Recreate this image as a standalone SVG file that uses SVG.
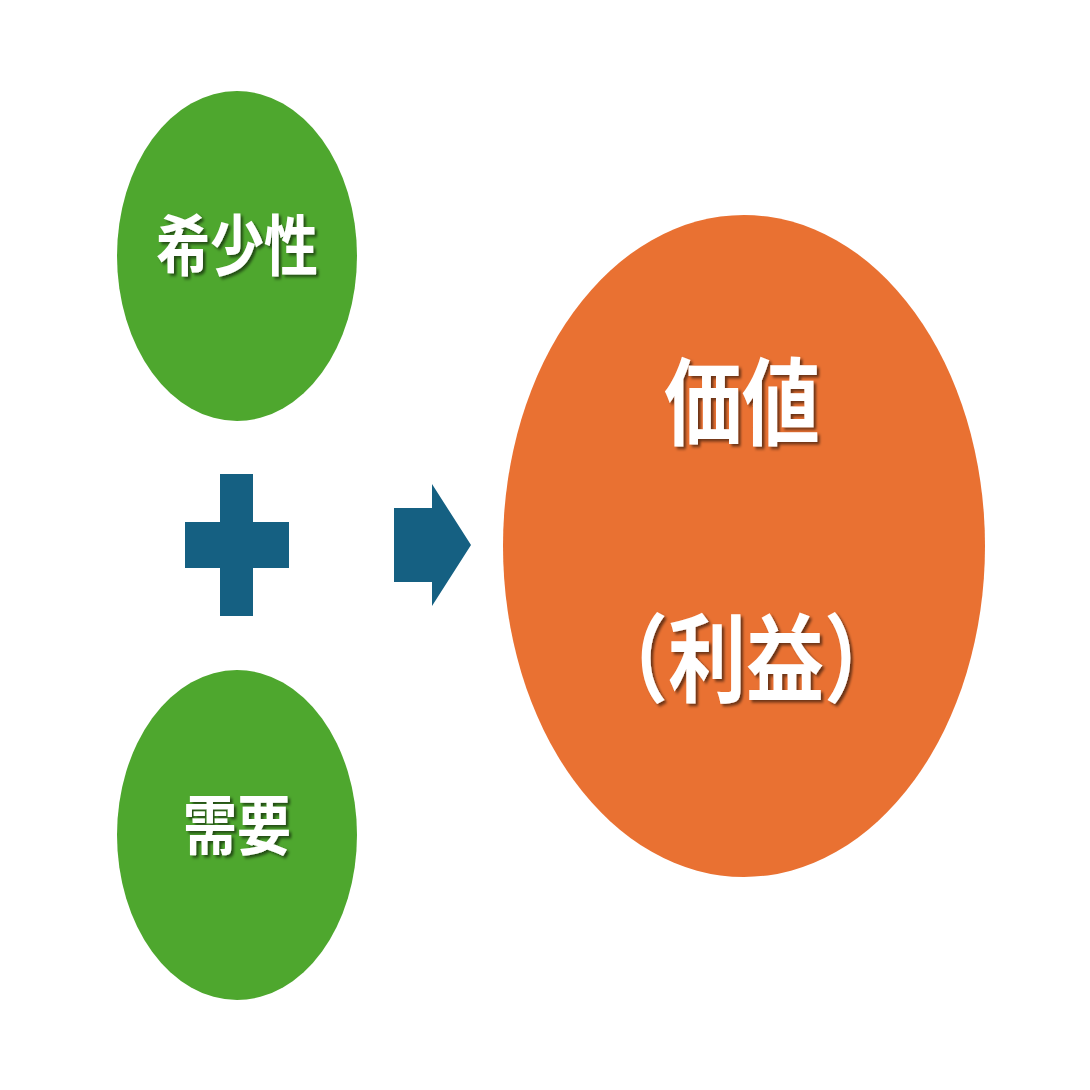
<svg xmlns="http://www.w3.org/2000/svg" width="1090" height="1090" viewBox="0 0 1090 1090">
<style>
.g{fill:#4EA72E}
.o{fill:#E97132}
.b{fill:#156082}
.t{fill:#fff;font-family:"Noto Sans CJK JP","Noto Sans CJK SC",sans-serif;font-weight:700;text-anchor:middle;filter:url(#sh)}
</style>
<defs>
<filter id="sh" x="-10%" y="-10%" width="130%" height="130%">
<feDropShadow dx="2.5" dy="2" stdDeviation="1.2" flood-color="#000" flood-opacity="0.55"/>
</filter>
</defs>
<rect width="1090" height="1090" fill="#fff"/>
<g id="node-scarcity">
<ellipse class="g" cx="237" cy="256" rx="120" ry="165"/>
<text class="t" font-size="54" transform="translate(237 270) scale(1 1.22)">希少性</text>
</g>
<g id="node-demand">
<ellipse class="g" cx="237" cy="835" rx="120" ry="165"/>
<text class="t" font-size="54" transform="translate(237 849) scale(1 1.2)">需要</text>
</g>
<g id="node-value">
<ellipse class="o" cx="744" cy="546" rx="241" ry="331"/>
<text class="t" font-size="78" transform="translate(742 438) scale(1 1.22)">価値</text>
<text class="t" font-size="78" transform="translate(746 694) scale(1 1.23)">（利益）</text>
</g>
<g id="node-plus">
<path class="b" d="M220 474H253V522H289V568H253V616H220V568H185V522H220Z"/>
</g>
<g id="connectors">
<path class="b" d="M394 508H432V484L471 545L432 606V582H394Z"/>
</g>
</svg>
